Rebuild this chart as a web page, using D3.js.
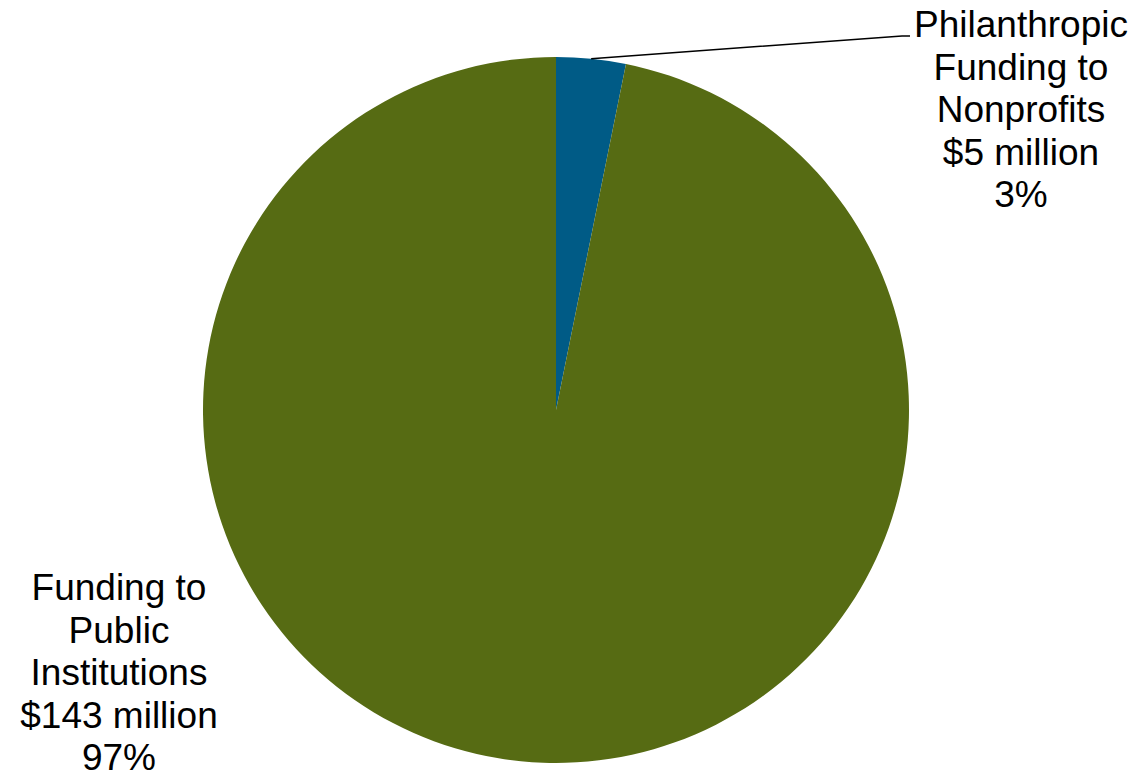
<!DOCTYPE html>
<html>
<head>
<meta charset="utf-8">
<script src="https://cdn.jsdelivr.net/npm/d3@7"></script>
<style>
  body { margin: 0; background: #fff; }
  text { font-family: "Liberation Sans", Arial, sans-serif; fill: #000; }
</style>
</head>
<body>
<svg id="chart" width="1139" height="774"></svg>
<script>
// slice data (underlying values)
let categories = ["Philanthropic Funding to Nonprofits", "Funding to Public Institutions"];
let amounts = [4.7, 143.3];
let colors = ["#005b86", "#566b13"];
let label_lines = [
    ["Philanthropic", "Funding to", "Nonprofits", "$5 million", "3%"],
    ["Funding to", "Public", "Institutions", "$143 million", "97%"]
];

let width = 1139, height = 774;
let cx = 556, cy = 410, radius = 353;
let font_size = 37, line_h = 42.5;

let svg = d3.select("#chart");
let g = svg.append("g").attr("transform", `translate(${cx},${cy})`);

let data = categories.map(function(c, i) {
    return {name: c, value: amounts[i], color: colors[i], lines: label_lines[i]};
});

let pie = d3.pie().sort(null).value(function(d) { return d.value; });
let arc = d3.arc().innerRadius(0).outerRadius(radius);
let arcs = pie(data);

g.selectAll("path")
    .data(arcs)
    .enter()
    .append("path")
    .attr("d", arc)
    .attr("fill", function(d) { return d.data.color; });

// leader line for the small slice
let small = arcs[0];
let mid = (small.startAngle + small.endAngle) / 2;
let sx = radius * Math.sin(mid), sy = -radius * Math.cos(mid);
g.append("polyline")
    .attr("points", [[sx, sy], [902 - cx, 36 - cy], [910 - cx, 36 - cy]].map(function(p) { return p.join(","); }).join(" "))
    .attr("fill", "none")
    .attr("stroke", "#000")
    .attr("stroke-width", 1.5);

// labels
let label_pos = [
    {x: 1021, y: 37},
    {x: 119, y: 600}
];

arcs.forEach(function(d, i) {
    let t = svg.append("text")
        .attr("text-anchor", "middle")
        .style("font-size", font_size + "px");
    d.data.lines.forEach(function(line, j) {
        t.append("tspan")
            .attr("x", label_pos[i].x)
            .attr("y", label_pos[i].y + j * line_h)
            .text(line);
    });
});
</script>
</body>
</html>
